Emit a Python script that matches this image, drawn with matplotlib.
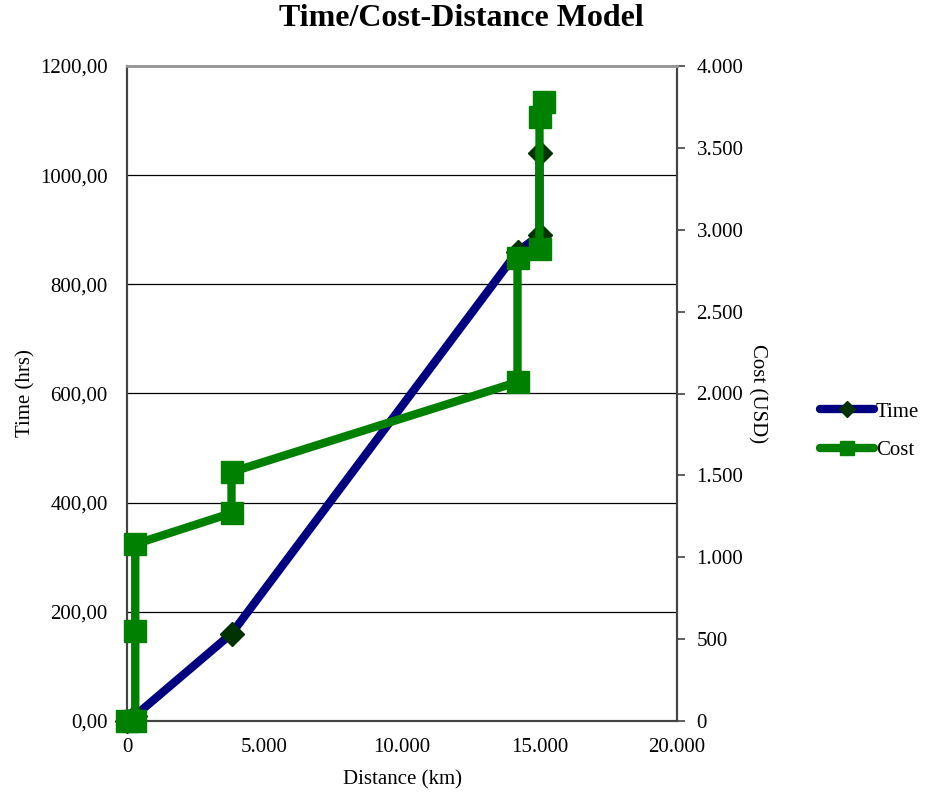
import matplotlib.pyplot as plt
from matplotlib.lines import Line2D
from matplotlib.ticker import FuncFormatter

# distance (km) / time (hrs)
time_dist = [0, 300, 3800, 14200, 15000, 15000]
time_hrs = [0, 10, 160, 860, 890, 1040]

# distance (km) / cost (USD)
cost_dist = [0, 300, 300, 300, 3800, 3800, 14200, 14200, 15000, 15000, 15150]
cost_usd = [0, 0, 550, 1080, 1270, 1520, 2070, 2830, 2880, 3690, 3780]

plt.rcParams['font.family'] = ['Liberation Serif', 'DejaVu Serif']

def thousands(v, pos):
    return '{:,.0f}'.format(v).replace(',', '.')

def decimals(v, pos):
    return '{:.2f}'.format(v).replace('.', ',')

fig = plt.figure(figsize=(9.32, 7.96), dpi=100)
ax = fig.add_axes([127/932, 1-721/796, 550/932, 655/796])
ax2 = ax.twinx()

ax.set_xlim(0, 20000)
ax.set_ylim(0, 1200)
ax2.set_ylim(0, 4000)
ax.set_xticks(range(0, 20001, 5000))
ax.set_yticks(range(0, 1201, 200))
ax2.set_yticks(range(0, 4001, 500))
ax.xaxis.set_major_formatter(FuncFormatter(thousands))
ax.yaxis.set_major_formatter(FuncFormatter(decimals))
ax2.yaxis.set_major_formatter(FuncFormatter(thousands))

ax.grid(axis='y', color='black', lw=0.9)
ax.set_axisbelow(True)

ax.plot(time_dist, time_hrs, color='#000080', lw=6, marker='D', ms=12,
        mfc='#003300', mec='#003300', solid_joinstyle='round', clip_on=False, zorder=3)
ax2.plot(cost_dist, cost_usd, color='#008000', lw=6, marker='s', ms=15.5,
         mfc='#008000', mec='#008000', clip_on=False, zorder=3)

for a in (ax, ax2):
    a.spines['top'].set_color('#999999')
    a.spines['top'].set_linewidth(2)
    for s in ('left', 'right', 'bottom'):
        a.spines[s].set_color('#444444')
        a.spines[s].set_linewidth(1.5)
    a.tick_params(labelsize=15, colors='black')

ax.tick_params(axis='y', length=0, pad=14)
ax.tick_params(axis='x', length=0, pad=12)
ax2.tick_params(axis='y', length=6, width=1.2, color='#444444', pad=8)

ax.set_xlabel('Distance (km)', fontsize=15, labelpad=10)
ax.set_ylabel('Time (hrs)', fontsize=15, labelpad=3)
ax2.set_ylabel('Cost (USD)', fontsize=15, rotation=270, labelpad=17)

fig.text(461/932, 1-19/796, 'Time/Cost-Distance Model', fontsize=23,
         fontweight='bold', ha='center', va='center')

handles = [
    Line2D([], [], color='#000080', lw=6, marker='D', ms=8, mfc='#003300',
           mec='#003300', solid_capstyle='round'),
    Line2D([], [], color='#008000', lw=6, marker='s', ms=10, mfc='#008000',
           mec='#008000', solid_capstyle='round'),
]
fig.legend(handles, ['Time', 'Cost'], loc='center left',
           bbox_to_anchor=(801/932, 1-431/796), frameon=False, fontsize=15,
           handlelength=2.6, handletextpad=0.1, labelspacing=0.9)

fig.savefig('out.png', dpi=100)
